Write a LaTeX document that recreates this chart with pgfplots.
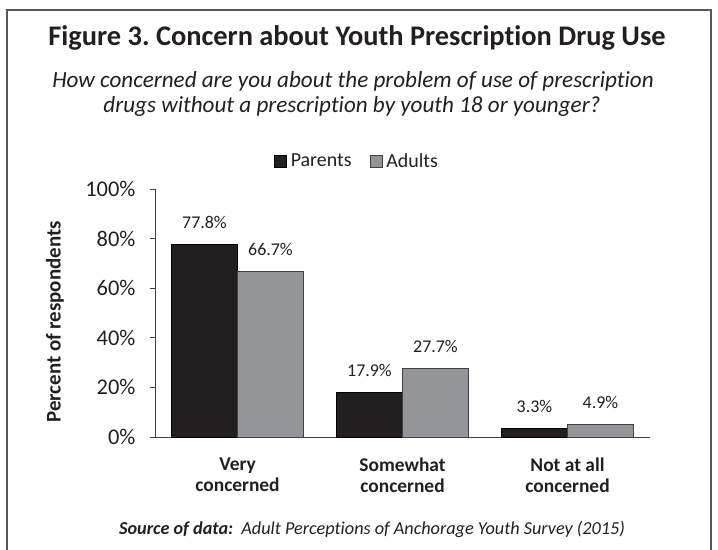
\documentclass[border=0pt]{standalone}
\usepackage{fontspec}
\setmainfont{Carlito}[Ligatures=NoCommon]
\usepackage{pgfplots}
\pgfplotsset{compat=1.18}
\definecolor{parents}{HTML}{231F20}
\definecolor{adults}{HTML}{939598}
\definecolor{ink}{HTML}{231F20}
\definecolor{framegray}{HTML}{58595B}
\definecolor{axisgray}{HTML}{404041}
% square legend swatch
\pgfplotsset{sqlegend/.style={legend image code/.code={\draw[##1] (0bp,-6bp) rectangle (12bp,6bp);}}}
\frenchspacing

\begin{document}
\begin{tikzpicture}[x=1bp,y=1bp]
\useasboundingbox (0,0) rectangle (718,550);
% outer frame, open at the bottom
\draw[framegray, line width=1.4bp] (7,-2) -- (7,540) -- (711,540) -- (711,-2);
% title and question
\node[anchor=base, inner sep=0pt, text=ink, font=\bfseries\fontsize{28.5}{32}\selectfont]
  at (357,504) {Figure 3. Concern about Youth Prescription Drug Use};
\node[anchor=base, inner sep=0pt, text=ink, font=\itshape\fontsize{23.2}{26}\selectfont]
  at (353,462) {How concerned are you about the problem of use of prescription};
\node[anchor=base, inner sep=0pt, text=ink, font=\itshape\fontsize{23.2}{26}\selectfont]
  at (352,437) {drugs without a prescription by youth 18 or younger?};

\begin{axis}[
  at={(155bp,113bp)}, anchor=south west,
  scale only axis, width=495bp, height=248bp,
  xmin=-0.5, xmax=2.5, ymin=0, ymax=100,
  axis x line*=bottom, axis y line*=left,
  axis line style={-, draw=axisgray, line width=0.9bp},
  ybar=0pt, bar width=66bp,
  xtick={0,1,2},
  xticklabels={{Very\\concerned},{Somewhat\\concerned},{Not at all\\concerned}},
  major x tick style={draw=none},
  xticklabel style={align=center, text=ink, yshift=-12bp,
    font=\bfseries\fontsize{19.5}{21}\selectfont},
  ytick={0,20,...,100},
  yticklabel={\pgfmathprintnumber{\tick}\%},
  tick align=outside, major tick length=5bp,
  major y tick style={draw=axisgray, line width=0.9bp},
  yticklabel style={text=ink, xshift=-11bp, font=\fontsize{22.5}{24}\selectfont},
  /pgf/number format/assume math mode=true,
  ylabel={Percent of respondents},
  ylabel style={at={(axis description cs:-0.202,0.464)}, anchor=center,
    text=ink, font=\bfseries\fontsize{21}{24}\selectfont},
  nodes near coords={\pgfmathprintnumber[fixed,fixed zerofill,precision=1]{\pgfplotspointmeta}\%},
  every node near coord/.append style={anchor=base, yshift=16bp, inner sep=0pt,
    text=ink, font=\fontsize{18}{20}\selectfont},
  legend style={at={(0.41,1.113)}, anchor=center, draw=none, fill=none,
    legend columns=2, text=ink, font=\fontsize{20}{22}\selectfont,
    nodes={inner xsep=4bp},
    /tikz/every even column/.append style={column sep=14bp}},
  clip=false,
]
\addplot[fill=parents, draw=black, line width=0.8bp, sqlegend]
  coordinates {(0,77.8) (1,17.9) (2,3.3)};
\addlegendentry{Parents}
\addplot[fill=adults, draw=axisgray, line width=0.8bp, sqlegend]
  coordinates {(0,66.7) (1,27.7) (2,4.9)};
\addlegendentry{Adults}
\end{axis}

% source note
\node[anchor=base, inner sep=0pt, text=ink, font=\itshape\fontsize{18.3}{20}\selectfont]
  at (372,15) {{\bfseries Source of data:}\ \ Adult Perceptions of Anchorage Youth Survey (2015)};
\end{tikzpicture}
\end{document}
